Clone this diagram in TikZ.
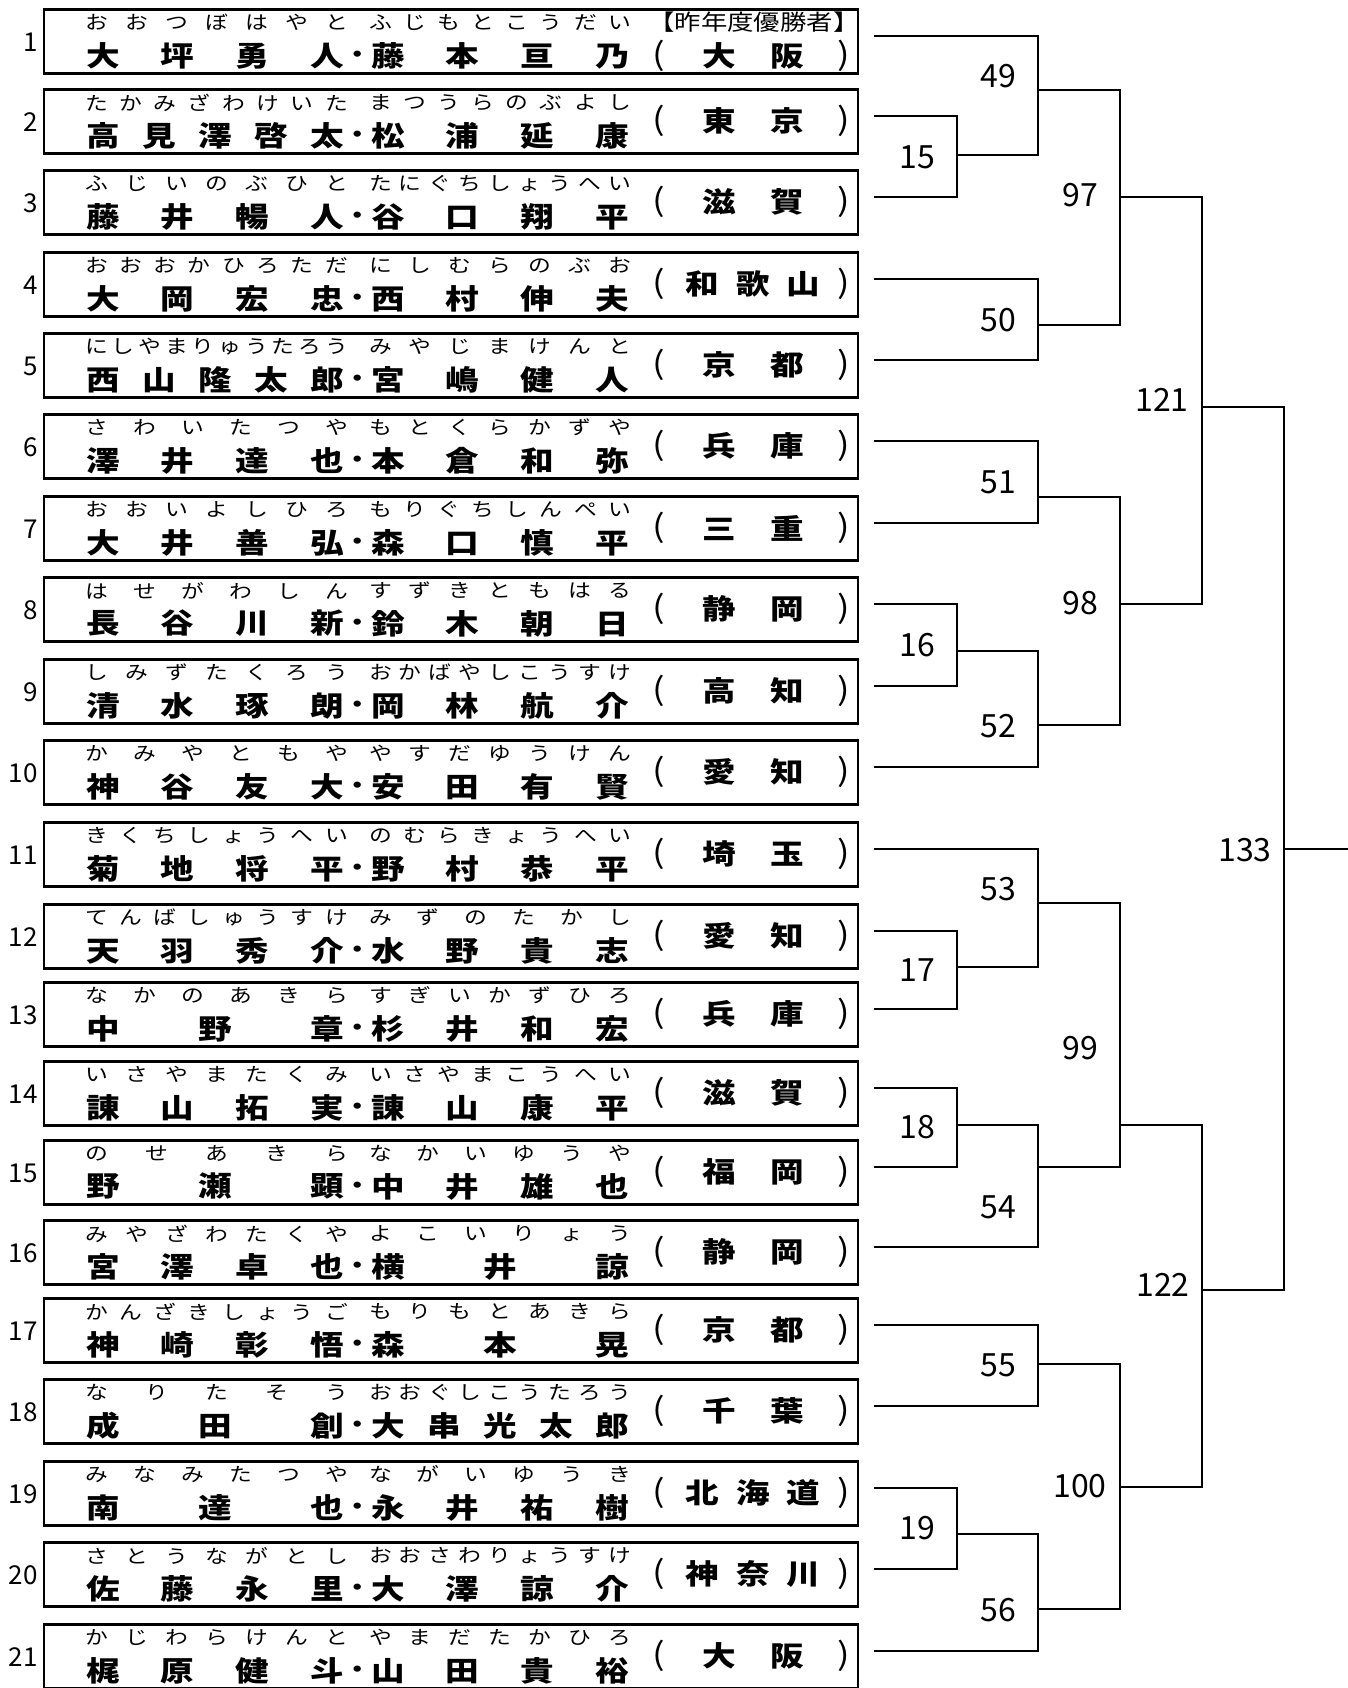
\documentclass[tikz,border=0pt]{standalone}
\usepackage{fontspec}
\newfontfamily\jpfont{Noto Sans CJK JP}[FakeStretch=1.2]
\newfontfamily\numfont{Noto Sans CJK JP}
\def\spread#1{\expandafter\spreadnext#1\relax}
\def\spreadnext#1#2{#1\ifx\relax#2\else\hfill\expandafter\spreadnext\fi#2}

\begin{document}
\begin{tikzpicture}[x=1pt,y=-1pt,
  entry/.style={draw,line width=2.7pt,minimum width=814pt,minimum height=64.5pt,inner sep=0pt},
  kanji/.style={inner sep=0pt,font=\jpfont\bfseries\fontsize{28}{28}\selectfont},
  paren/.style={inner sep=0pt,font=\jpfont\fontsize{31}{31}\selectfont},
  kana/.style={inner sep=0pt,font=\jpfont\fontsize{19}{19}\selectfont},
  rownum/.style={inner sep=0pt,anchor=east,font=\numfont\fontsize{26}{26}\selectfont},
  mlabel/.style={inner sep=0pt,font=\numfont\fontsize{32}{32}\selectfont},
  wire/.style={line width=2.3pt}]
\useasboundingbox (0,0) rectangle (1348,1688);
\foreach \n/\ly/\ka/\kb/\na/\nb/\pf/\pw in {
  1/36/おおつぼはやと/ふじもとこうだい/大坪勇人/藤本亘乃/大阪/101.6,
  2/116/たかみざわけいた/まつうらのぶよし/高見澤啓太/松浦延康/東京/101.6,
  3/197/ふじいのぶひと/たにぐちしょうへい/藤井暢人/谷口翔平/滋賀/101.6,
  4/279/おおおかひろただ/にしむらのぶお/大岡宏忠/西村伸夫/和歌山/134.6,
  5/360/にしやまりゅうたろう/みやじまけんと/西山隆太郎/宮嶋健人/京都/101.6,
  6/441/さわいたつや/もとくらかずや/澤井達也/本倉和弥/兵庫/101.6,
  7/523/おおいよしひろ/もりぐちしんぺい/大井善弘/森口慎平/三重/101.6,
  8/604/はせがわしん/すずきともはる/長谷川新/鈴木朝日/静岡/101.6,
  9/686/しみずたくろう/おかばやしこうすけ/清水琢朗/岡林航介/高知/101.6,
  10/767/かみやともや/やすだゆうけん/神谷友大/安田有賢/愛知/101.6,
  11/849/きくちしょうへい/のむらきょうへい/菊地将平/野村恭平/埼玉/101.6,
  12/931/てんばしゅうすけ/みずのたかし/天羽秀介/水野貴志/愛知/101.6,
  13/1009/なかのあきら/すぎいかずひろ/中野章/杉井和宏/兵庫/101.6,
  14/1088/いさやまたくみ/いさやまこうへい/諌山拓実/諌山康平/滋賀/101.6,
  15/1167/のせあきら/なかいゆうや/野瀬顕/中井雄也/福岡/101.6,
  16/1247/みやざわたくや/よこいりょう/宮澤卓也/横井諒/静岡/101.6,
  17/1325/かんざきしょうご/もりもとあきら/神崎彰悟/森本晃/京都/101.6,
  18/1406/なりたそう/おおぐしこうたろう/成田創/大串光太郎/千葉/101.6,
  19/1488/みなみたつや/ながいゆうき/南達也/永井祐樹/北海道/134.6,
  20/1569/さとうながとし/おおさわりょうすけ/佐藤永里/大澤諒介/神奈川/134.6,
  21/1651/かじわらけんと/やまだたかひろ/梶原健斗/山田貴裕/大阪/101.6}{
  \pgfmathsetmacro\py{ifthenelse(\n==1,\ly+19.5,\ly+5)}
  \node[entry] (b\n) at (451,\ly+5.5) {};
  \node[rownum] (r\n) at (38,\ly+6.5) {\n};
  \node[kana] (ka\n) at (216.5,\ly-13.5) {\makebox[263pt][s]{\spread\ka}};
  \node[kana] (kb\n) at (500,\ly-13.5) {\makebox[262pt][s]{\spread\kb}};
  \node[kanji] (na\n) at (215,\ly+19.5) {\makebox[257.6pt][s]{\spread\na}};
  \node[kanji,font=\jpfont\bfseries\fontsize{22}{22}\selectfont] (dot\n) at (358,\ly+20.5) {・};
  \node[kanji] (nb\n) at (500,\ly+19.5) {\makebox[257.6pt][s]{\spread\nb}};
  \node[paren] (pl\n) at (659,\py) {(};
  \node[kanji] (pf\n) at (753,\py) {\makebox[\pw pt][s]{\spread\pf}};
  \node[paren] (pr\n) at (844,\py) {)};
  \coordinate (e\n) at (874,\ly);
}
\node[kana,font=\jpfont\fontsize{22}{22}\selectfont] (champ) at (752.5,22.5) {\makebox[208.6pt][s]{\spread{【昨年度優勝者】}}};
\foreach \m/\vx/\vy in {15/957/155,49/1038/90,50/1038/325,97/1120/197,51/1038/497,16/957/651,
  52/1038/725,98/1120/604,121/1202/407,53/1038/903,17/957/967,18/957/1125,54/1038/1167,
  99/1120/1125,55/1038/1364,19/957/1534,56/1038/1609,100/1120/1487,122/1202/1290,133/1284/849}
  \coordinate (m\m) at (\vx,\vy);
\foreach \m/\a/\b in {15/e2/e3,49/e1/m15,50/e4/e5,97/m49/m50,51/e6/e7,16/e8/e9,52/m16/e10,
  98/m51/m52,121/m97/m98,53/e11/m17,17/e12/e13,18/e14/e15,54/m18/e16,99/m53/m54,55/e17/e18,
  19/e19/e20,56/m19/e21,100/m55/m56,122/m99/m100,133/m121/m122}
  \draw[wire] (\a) -| (m\m) |- (\b);
\coordinate (fin) at (1348,849);
\draw[wire] (m133) -- (fin);
\foreach \m/\lx/\lyy in {49/998/76,15/917/157,50/998/320,97/1080/195,51/998/482,16/917/645,
  52/998/726,98/1080/603,121/1162/400,53/998/889,17/917/970,18/917/1127,54/998/1207,
  99/1080/1048,55/998/1365,19/917/1528,56/998/1610,100/1080/1486,122/1163/1285,133/1245/850}
  \node[mlabel] (t\m) at (\lx,\lyy) {\m};
\end{tikzpicture}
\end{document}
